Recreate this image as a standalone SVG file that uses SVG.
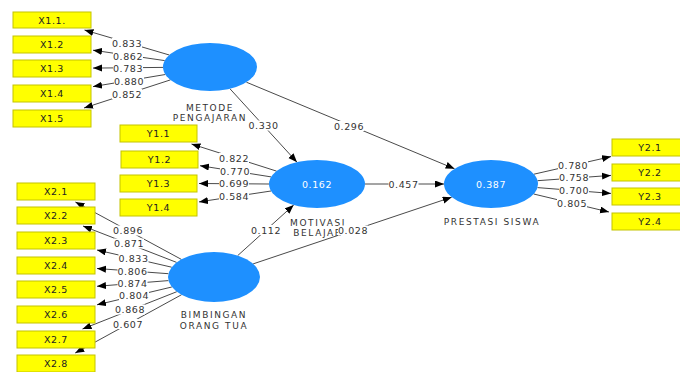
<svg xmlns="http://www.w3.org/2000/svg" width="680" height="372" viewBox="0 0 680 372">
<defs>
<marker id="arr" markerUnits="userSpaceOnUse" markerWidth="10" markerHeight="8" refX="9" refY="3.5" orient="auto">
<path d="M0,0 L9,3.5 L0,7 z" fill="#000"/>
</marker>
<style>
.bg{fill:#fff}
.ln{stroke:#4a4a4a;stroke-width:1;fill:none;marker-end:url(#arr)}
.box{fill:#ffff00;stroke:#c4c400;stroke-width:1}
.bt{font-family:"DejaVu Sans",sans-serif;font-size:9.5px;letter-spacing:0.6px;fill:#222;text-anchor:middle}
.lv{fill:#1e90ff}
.vt{font-family:"DejaVu Sans",sans-serif;font-size:9.5px;letter-spacing:0.6px;fill:#fff;text-anchor:middle}
.nl{font-family:"DejaVu Sans",sans-serif;font-size:9px;letter-spacing:1.6px;fill:#333;text-anchor:middle}
.cl{font-family:"DejaVu Sans",sans-serif;font-size:9.5px;letter-spacing:0.6px;fill:#333;text-anchor:middle}
.lb{fill:#fff}
</style>
</defs>
<rect class="bg" x="0" y="0" width="680" height="372"/>
<g id="connectors">
<line class="ln" x1="169.3" y1="55" x2="84.5" y2="30"/>
<line class="ln" x1="164.7" y1="60.6" x2="93" y2="50.2"/>
<line class="ln" x1="163" y1="67.4" x2="93" y2="68.1"/>
<line class="ln" x1="165.3" y1="74.5" x2="93" y2="86.6"/>
<line class="ln" x1="170.4" y1="79.9" x2="84" y2="108"/>
<line class="ln" x1="276.5" y1="171.1" x2="191.5" y2="144"/>
<line class="ln" x1="271.2" y1="176.9" x2="200" y2="165.7"/>
<line class="ln" x1="269" y1="184" x2="199" y2="183.5"/>
<line class="ln" x1="271" y1="191" x2="199" y2="201.9"/>
<line class="ln" x1="533.9" y1="174.2" x2="611" y2="156.6"/>
<line class="ln" x1="537.5" y1="180.7" x2="611" y2="175.4"/>
<line class="ln" x1="537.5" y1="187.6" x2="611" y2="193.4"/>
<line class="ln" x1="533.7" y1="194" x2="609" y2="212"/>
<line class="ln" x1="181.4" y1="259.4" x2="75.4" y2="202"/>
<line class="ln" x1="176.6" y1="262.4" x2="83" y2="226"/>
<line class="ln" x1="171.7" y1="267.2" x2="97" y2="250"/>
<line class="ln" x1="168.4" y1="273.7" x2="97" y2="268.5"/>
<line class="ln" x1="168.4" y1="280.6" x2="97" y2="286.3"/>
<line class="ln" x1="171.8" y1="287" x2="97" y2="304.8"/>
<line class="ln" x1="176.8" y1="291.7" x2="82.5" y2="329"/>
<line class="ln" x1="181.6" y1="294.7" x2="75.2" y2="353"/>
<line class="ln" x1="229.9" y1="88.7" x2="297" y2="162.2"/>
<line class="ln" x1="246.4" y1="82.2" x2="454.6" y2="168.8"/>
<line class="ln" x1="365" y1="184" x2="444" y2="184"/>
<line class="ln" x1="237.7" y1="255.6" x2="293.7" y2="205"/>
<line class="ln" x1="253.1" y1="263.9" x2="451.7" y2="197.2"/>
</g>
<g id="X1.1"><rect class="box" x="13" y="12" width="78" height="16"/><text class="bt" x="52" y="23.5">X1.1.</text></g>
<g id="X1.2"><rect class="box" x="13" y="36" width="78" height="17"/><text class="bt" x="52" y="48">X1.2</text></g>
<g id="X1.3"><rect class="box" x="13" y="60" width="78" height="17"/><text class="bt" x="52" y="72">X1.3</text></g>
<g id="X1.4"><rect class="box" x="13" y="85" width="78" height="17"/><text class="bt" x="52" y="97">X1.4</text></g>
<g id="X1.5"><rect class="box" x="13" y="110" width="78" height="17"/><text class="bt" x="52" y="122">X1.5</text></g>
<g id="Y1.1"><rect class="box" x="120" y="125" width="77" height="17"/><text class="bt" x="158.5" y="137">Y1.1</text></g>
<g id="Y1.2"><rect class="box" x="121" y="151" width="77" height="17"/><text class="bt" x="159.5" y="163">Y1.2</text></g>
<g id="Y1.3"><rect class="box" x="120" y="175" width="77" height="17"/><text class="bt" x="158.5" y="187">Y1.3</text></g>
<g id="Y1.4"><rect class="box" x="120" y="199" width="77" height="17"/><text class="bt" x="158.5" y="211">Y1.4</text></g>
<g id="X2.1"><rect class="box" x="17" y="183" width="78" height="17"/><text class="bt" x="56" y="195">X2.1</text></g>
<g id="X2.2"><rect class="box" x="17" y="207" width="78" height="17"/><text class="bt" x="56" y="219">X2.2</text></g>
<g id="X2.3"><rect class="box" x="17" y="232" width="78" height="17"/><text class="bt" x="56" y="244">X2.3</text></g>
<g id="X2.4"><rect class="box" x="17" y="257" width="78" height="17"/><text class="bt" x="56" y="269">X2.4</text></g>
<g id="X2.5"><rect class="box" x="17" y="281" width="78" height="17"/><text class="bt" x="56" y="293">X2.5</text></g>
<g id="X2.6"><rect class="box" x="17" y="306" width="78" height="17"/><text class="bt" x="56" y="318">X2.6</text></g>
<g id="X2.7"><rect class="box" x="17" y="331" width="78" height="17"/><text class="bt" x="56" y="343">X2.7</text></g>
<g id="X2.8"><rect class="box" x="17" y="355" width="78" height="17"/><text class="bt" x="56" y="367">X2.8</text></g>
<g id="Y2.1"><rect class="box" x="612" y="139" width="77" height="17"/><text class="bt" x="650" y="151">Y2.1</text></g>
<g id="Y2.2"><rect class="box" x="612" y="164" width="77" height="17"/><text class="bt" x="650" y="176">Y2.2</text></g>
<g id="Y2.3"><rect class="box" x="612" y="188" width="77" height="17"/><text class="bt" x="650" y="200">Y2.3</text></g>
<g id="Y2.4"><rect class="box" x="612" y="213" width="77" height="17"/><text class="bt" x="650" y="225">Y2.4</text></g>
<g id="METODE_PENGAJARAN"><ellipse class="lv" cx="210" cy="67" rx="47" ry="24"/><text class="nl" x="210" y="111">METODE</text><text class="nl" x="210" y="121">PENGAJARAN</text></g>
<g id="MOTIVASI_BELAJAR"><ellipse class="lv" cx="317" cy="184" rx="48" ry="24"/><text class="vt" x="317" y="187.5">0.162</text><text class="nl" x="318" y="226">MOTIVASI</text><text class="nl" x="318" y="236">BELAJAR</text></g>
<g id="PRESTASI_SISWA"><ellipse class="lv" cx="491" cy="184" rx="47" ry="24"/><text class="vt" x="491" y="187.5">0.387</text><text class="nl" x="492" y="225">PRESTASI SISWA</text></g>
<g id="BIMBINGAN_ORANG_TUA"><ellipse class="lv" cx="214" cy="277" rx="46" ry="25"/><text class="nl" x="214" y="318">BIMBINGAN</text><text class="nl" x="214" y="329">ORANG TUA</text></g>
<g id="connector-labels">
<g transform="translate(127,43)"><rect class="lb" x="-15" y="-5" width="30" height="10"/><text class="cl" y="3.5">0.833</text></g>
<g transform="translate(128,56)"><rect class="lb" x="-15" y="-5" width="30" height="10"/><text class="cl" y="3.5">0.862</text></g>
<g transform="translate(128,68)"><rect class="lb" x="-15" y="-5" width="30" height="10"/><text class="cl" y="3.5">0.783</text></g>
<g transform="translate(129,81)"><rect class="lb" x="-15" y="-5" width="30" height="10"/><text class="cl" y="3.5">0.880</text></g>
<g transform="translate(127,94)"><rect class="lb" x="-15" y="-5" width="30" height="10"/><text class="cl" y="3.5">0.852</text></g>
<g transform="translate(234,158)"><rect class="lb" x="-15" y="-5" width="30" height="10"/><text class="cl" y="3.5">0.822</text></g>
<g transform="translate(235,171)"><rect class="lb" x="-15" y="-5" width="30" height="10"/><text class="cl" y="3.5">0.770</text></g>
<g transform="translate(234,183.5)"><rect class="lb" x="-15" y="-5" width="30" height="10"/><text class="cl" y="3.5">0.699</text></g>
<g transform="translate(234,196)"><rect class="lb" x="-15" y="-5" width="30" height="10"/><text class="cl" y="3.5">0.584</text></g>
<g transform="translate(573,165)"><rect class="lb" x="-15" y="-5" width="30" height="10"/><text class="cl" y="3.5">0.780</text></g>
<g transform="translate(574,177.5)"><rect class="lb" x="-15" y="-5" width="30" height="10"/><text class="cl" y="3.5">0.758</text></g>
<g transform="translate(574,190)"><rect class="lb" x="-15" y="-5" width="30" height="10"/><text class="cl" y="3.5">0.700</text></g>
<g transform="translate(572,203)"><rect class="lb" x="-15" y="-5" width="30" height="10"/><text class="cl" y="3.5">0.805</text></g>
<g transform="translate(128,230.5)"><rect class="lb" x="-15" y="-5" width="30" height="10"/><text class="cl" y="3.5">0.896</text></g>
<g transform="translate(129,243.5)"><rect class="lb" x="-15" y="-5" width="30" height="10"/><text class="cl" y="3.5">0.871</text></g>
<g transform="translate(133.5,258)"><rect class="lb" x="-15" y="-5" width="30" height="10"/><text class="cl" y="3.5">0.833</text></g>
<g transform="translate(132.5,271)"><rect class="lb" x="-15" y="-5" width="30" height="10"/><text class="cl" y="3.5">0.806</text></g>
<g transform="translate(132.5,283)"><rect class="lb" x="-15" y="-5" width="30" height="10"/><text class="cl" y="3.5">0.874</text></g>
<g transform="translate(134,295)"><rect class="lb" x="-15" y="-5" width="30" height="10"/><text class="cl" y="3.5">0.804</text></g>
<g transform="translate(130,309.5)"><rect class="lb" x="-15" y="-5" width="30" height="10"/><text class="cl" y="3.5">0.868</text></g>
<g transform="translate(128,324)"><rect class="lb" x="-15" y="-5" width="30" height="10"/><text class="cl" y="3.5">0.607</text></g>
<g transform="translate(263.5,125.5)"><rect class="lb" x="-15" y="-5" width="30" height="10"/><text class="cl" y="3.5">0.330</text></g>
<g transform="translate(349,126)"><rect class="lb" x="-15" y="-5" width="30" height="10"/><text class="cl" y="3.5">0.296</text></g>
<g transform="translate(403.5,184)"><rect class="lb" x="-15" y="-5" width="30" height="10"/><text class="cl" y="3.5">0.457</text></g>
<g transform="translate(266,230)"><rect class="lb" x="-15" y="-5" width="30" height="10"/><text class="cl" y="3.5">0.112</text></g>
<g transform="translate(353,230.5)"><rect class="lb" x="-15" y="-5" width="30" height="10"/><text class="cl" y="3.5">0.028</text></g>
</g>
</svg>
